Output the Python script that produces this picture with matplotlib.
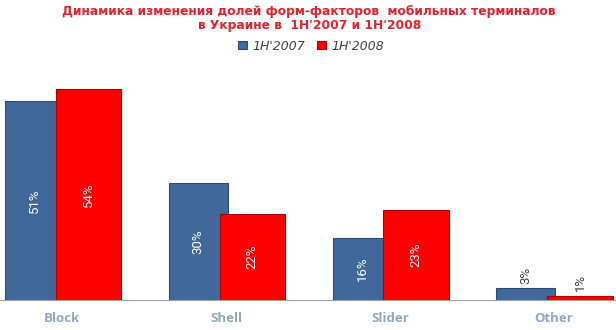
import matplotlib
matplotlib.use('Agg')
import matplotlib.pyplot as plt
import numpy as np

categories = ['Block', 'Shell', 'Slider', 'Other']
share_2007 = [51, 30, 16, 3]
share_2008 = [54, 22, 23, 1]
series_names = ["1H'2007", "1H'2008"]
title = "Динамика изменения долей форм-факторов  мобильных терминалов\nв Украине в  1H'2007 и 1H'2008"

plt.rcParams['font.family'] = ['DejaVu Sans']

fig = plt.figure(figsize=(6.16, 3.30), dpi=100)
ax = fig.add_axes([0, 30 / 330, 1, 240 / 330])

x = np.arange(len(categories))
blue = '#41689A'
red = '#FF0000'
b1 = ax.bar(x - 0.17, share_2007, width=0.36, color=blue, edgecolor='#2E4C73', linewidth=0.8,
            label=series_names[0], zorder=2)
b2 = ax.bar(x + 0.16, share_2008, width=0.40, color=red, edgecolor='#B00000', linewidth=0.8,
            label=series_names[1], zorder=3)

for bars, vals in ((b1, share_2007), (b2, share_2008)):
    for rect, v in zip(bars, vals):
        cx = rect.get_x() + rect.get_width() / 2
        if v >= 10:
            ax.text(cx, v / 2, f'{v}%', rotation=90, ha='center', va='center',
                    color='white', fontsize=9.5, family='Roboto', zorder=4)
        else:
            ax.text(cx, v + 1.2, f'{v}%', rotation=90, ha='center', va='bottom',
                    color='#404040', fontsize=9.5, family='Roboto', zorder=4)

ax.set_xlim(-0.38, 3.38)
ax.set_ylim(0, 61.5)
ax.set_yticks([])
ax.set_xticks(x)
ax.set_xticklabels(categories, color='#8FA8C6', fontsize=9.5, fontweight='bold', family='Open Sans')
ax.tick_params(axis='x', length=0, pad=9)
for s in ['top', 'left', 'right']:
    ax.spines[s].set_visible(False)
ax.spines['bottom'].set_color('#A0A0A0')
ax.spines['bottom'].set_linewidth(0.8)

fig.text(0.502, 1 - 5 / 330, title, ha='center', va='top', color='#E8202A', fontsize=8.8,
         fontweight='bold', linespacing=1.1)

leg = fig.legend(handles=[b1, b2], loc='center', frameon=False,
                 ncol=2, fontsize=9, handlelength=0.7, handleheight=0.6, columnspacing=1.0,
                 handletextpad=0.4)
leg.set_bbox_to_anchor((0.505, 1 - 46 / 330), transform=fig.transFigure)
for t in leg.get_texts():
    t.set_color('#404040')
    t.set_fontstyle('italic')

fig.savefig('out.png', dpi=100)
